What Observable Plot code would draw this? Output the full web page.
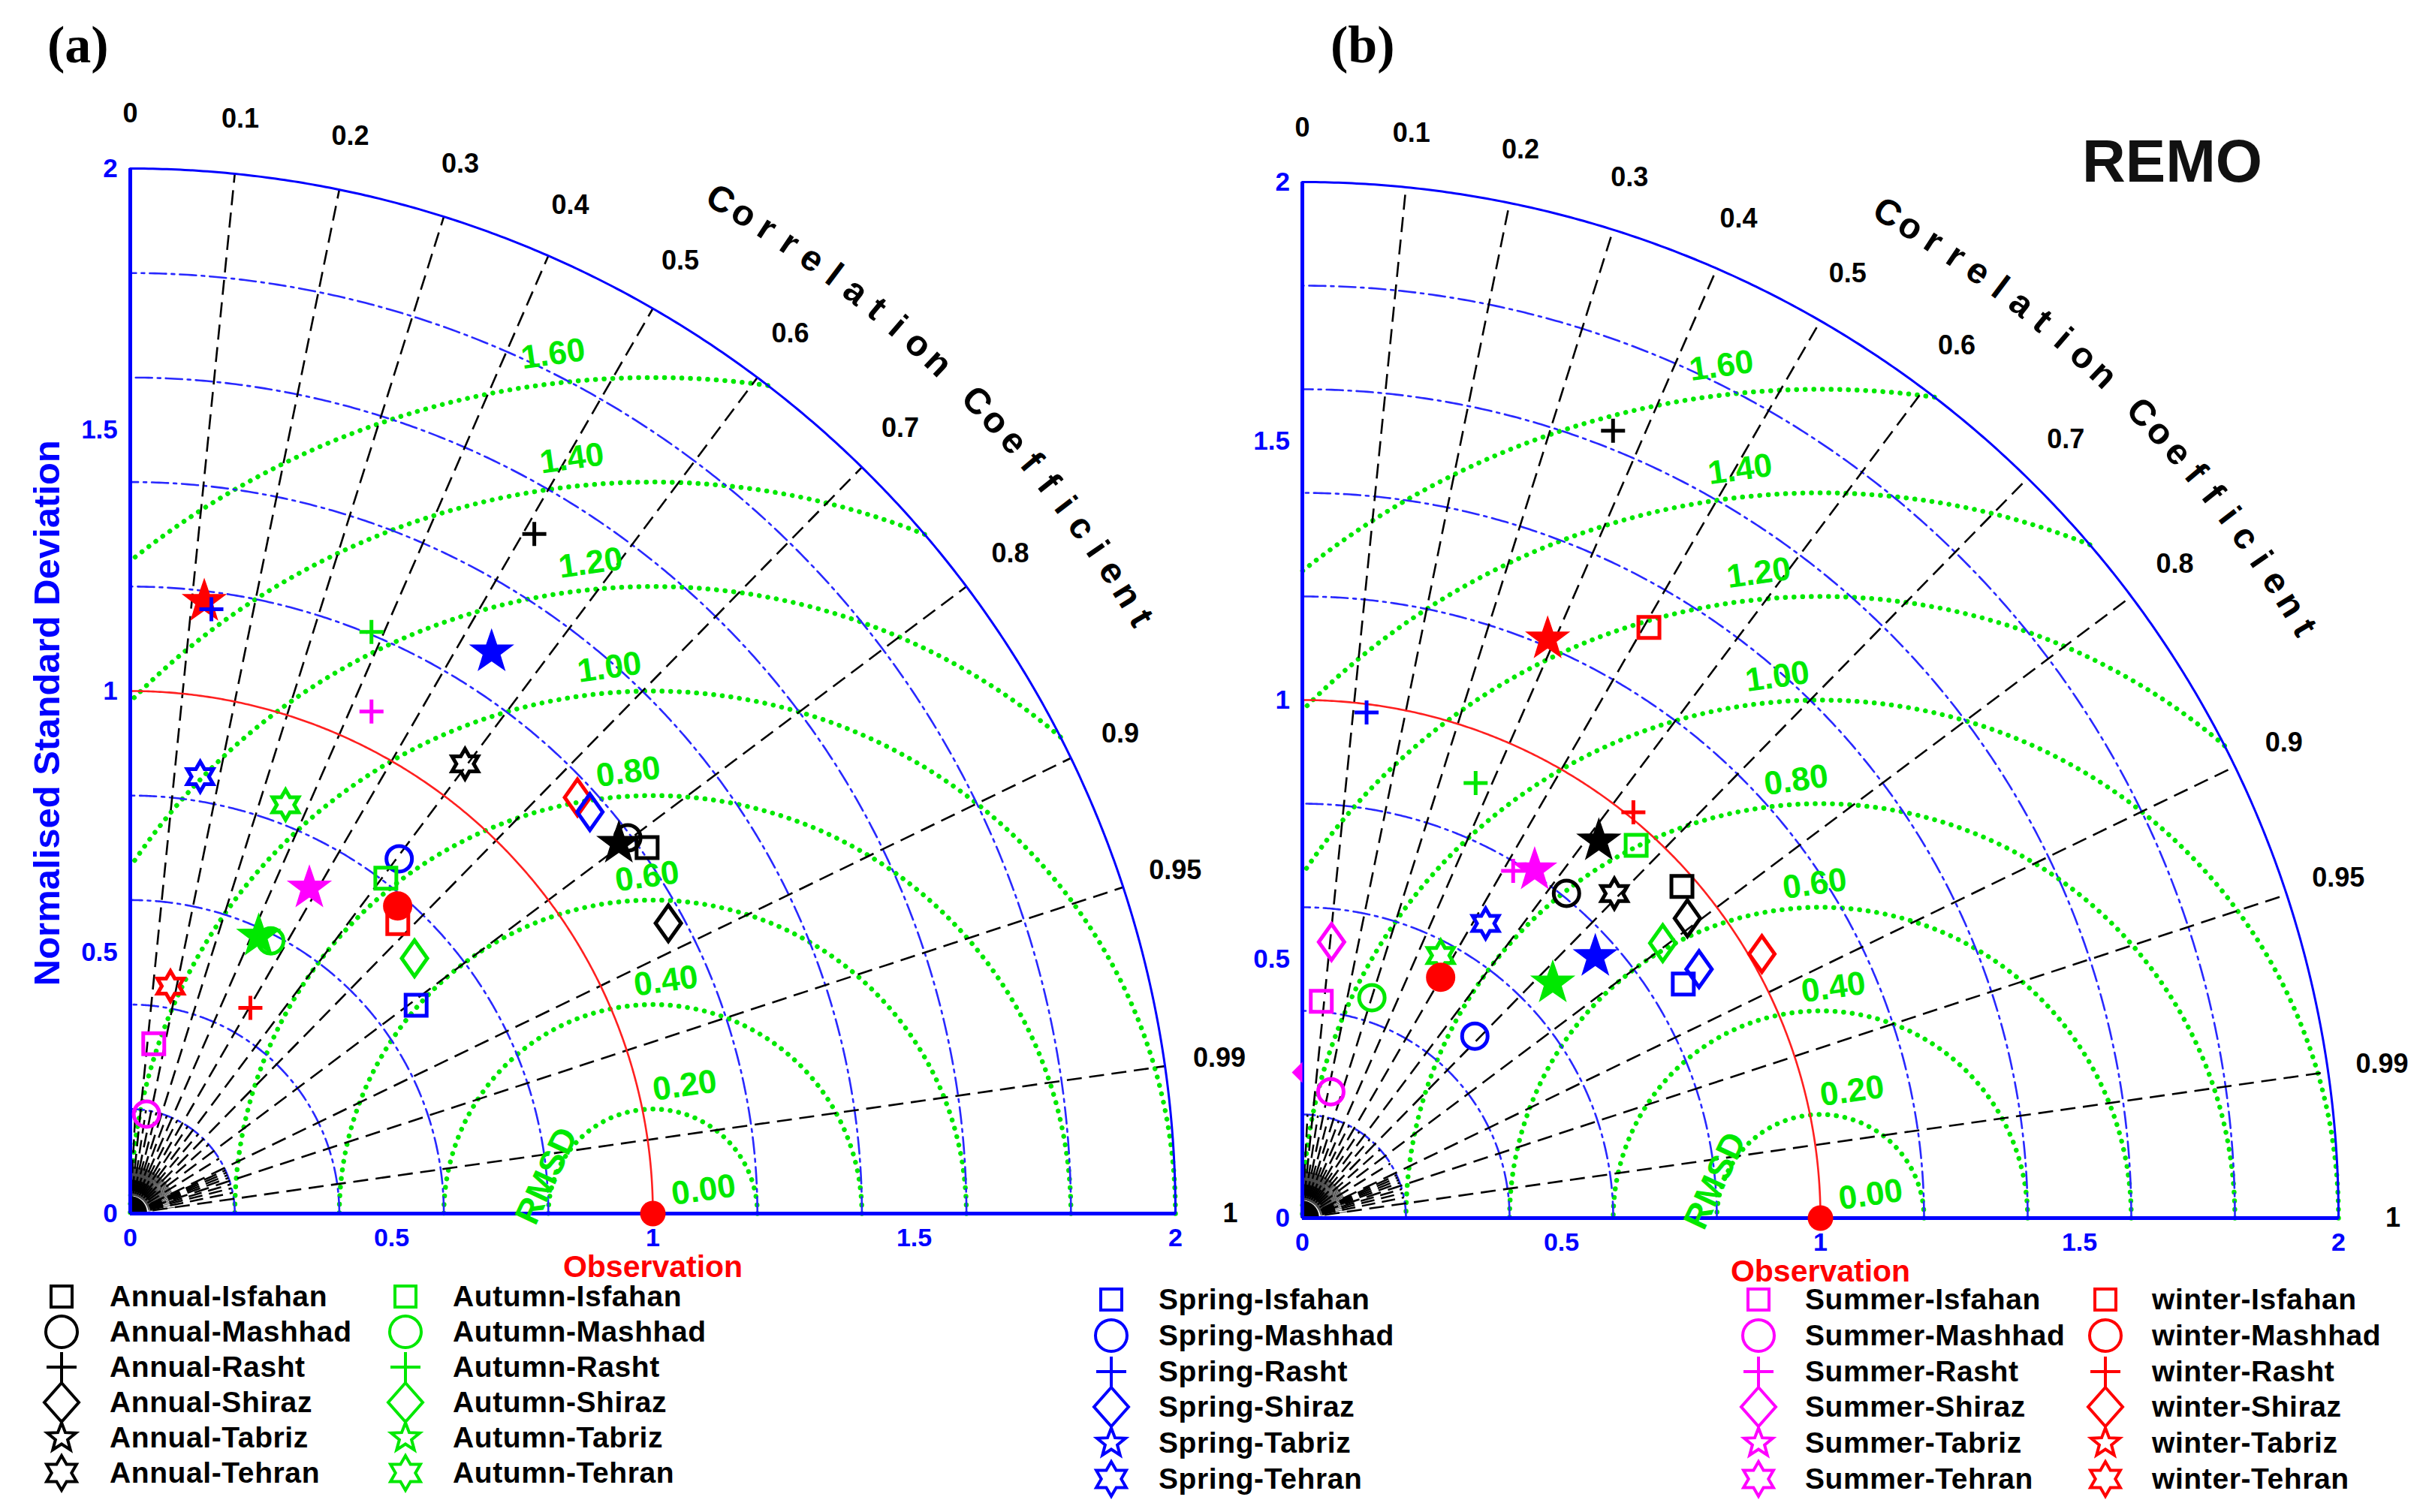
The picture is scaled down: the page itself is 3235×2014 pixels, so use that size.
<!DOCTYPE html>
<html><head><meta charset="utf-8">
<script src="https://cdn.jsdelivr.net/npm/d3@7"></script>
<script src="https://cdn.jsdelivr.net/npm/@observablehq/plot@0.6"></script>
<style>
body{margin:0;background:#fff;}
#root{position:relative;width:3235px;height:2014px;overflow:hidden;background:#fff;font-family:"Liberation Sans",Arial,sans-serif;}
.abs{position:absolute;white-space:nowrap;}
</style></head><body><div id="root"></div>
<script>
// ---------------- data ----------------
const seasons = ["Annual","Autumn","Spring","Summer","winter"];
const seasonColors = ["#000000","#00e800","#0000ff","#ff00ff","#ff0000"];
const cities = ["Isfahan","Mashhad","Rasht","Shiraz","Tabriz","Tehran"];
const corrTicks = [0,0.1,0.2,0.3,0.4,0.5,0.6,0.7,0.8,0.9,0.95,0.99,1];
const corrLinesMain = [0.1,0.2,0.3,0.4,0.5,0.6,0.7,0.8,0.9,0.95,0.99];
const corrLinesMinor = [0.05,0.15,0.25,0.35,0.45,0.55,0.65,0.75,0.85,0.91,0.92,0.93,0.94,0.96,0.97,0.98];
const stdTicks = [0,0.5,1,1.5,2];
const stdGrid = [0.2,0.4,0.6,0.8,1.2,1.4,1.6,1.8];
const rmsdLevels = [0,0.2,0.4,0.6,0.8,1.0,1.2,1.4,1.6];
const rmsdLabels = ["0.00","0.20","0.40","0.60","0.80","1.00","1.20","1.40","1.60"];

// panel (a)
const aSeason = ["winter","Spring","Annual","Autumn","Spring","Summer","Spring","Autumn","Annual","winter","Spring","Annual","Annual","Annual","Annual","Spring","Autumn","Summer","winter","winter","Autumn","Autumn","Autumn","Spring","winter","winter","Summer","Summer"];
const aCity   = ["Tabriz","Rasht","Rasht","Rasht","Tabriz","Rasht","Tehran","Tehran","Tehran","Shiraz","Shiraz","Tabriz","Mashhad","Isfahan","Shiraz","Mashhad","Isfahan","Tabriz","Isfahan","Mashhad","Tabriz","Mashhad","Shiraz","Isfahan","Tehran","Rasht","Isfahan","Mashhad"];
const aStd    = [1.180,1.167,1.513,1.205,1.278,1.066,0.847,0.837,1.073,1.169,1.168,1.173,1.193,1.212,1.170,0.852,0.807,0.711,0.755,0.780,0.585,0.587,0.731,0.677,0.442,0.456,0.328,0.193];
const aCorr   = [0.120,0.133,0.511,0.383,0.541,0.433,0.158,0.355,0.597,0.732,0.753,0.797,0.798,0.816,0.880,0.604,0.606,0.482,0.678,0.656,0.420,0.458,0.744,0.808,0.174,0.504,0.137,0.161];

// panel (b)
const bSeason = ["Annual","winter","winter","Spring","Autumn","winter","Annual","Autumn","Summer","Summer","Annual","Annual","Annual","Annual","Spring","Summer","Autumn","winter","Autumn","winter","Spring","Spring","Spring","Autumn","Summer","Autumn","Spring","Summer"];
const bCity   = ["Rasht","Tabriz","Isfahan","Rasht","Rasht","Rasht","Tabriz","Isfahan","Rasht","Tabriz","Mashhad","Tehran","Isfahan","Shiraz","Tehran","Shiraz","Shiraz","Shiraz","Tehran","Mashhad","Tabriz","Shiraz","Isfahan","Tabriz","Isfahan","Mashhad","Mashhad","Mashhad"];
const bStd    = [1.634,1.214,1.322,0.984,0.904,1.011,0.926,0.966,0.784,0.808,0.808,0.869,0.973,0.942,0.670,0.536,0.875,1.023,0.573,0.536,0.758,0.904,0.863,0.663,0.420,0.446,0.484,0.250];
const bCorr   = [0.367,0.390,0.506,0.126,0.370,0.632,0.618,0.667,0.519,0.555,0.631,0.693,0.753,0.789,0.528,0.105,0.795,0.867,0.466,0.498,0.746,0.847,0.852,0.729,0.087,0.301,0.688,0.220];
const bEdgeSeason = ["Summer"];
const bEdgeStd = [0.281];
const bEdgeCorr = [0.0];

// ---------------- helpers ----------------
const rad = Math.PI/180;
const GREEN = "#00e800", BLUE = "#0000ff", RED = "#ff0000";
const colorOf = Object.fromEntries(seasons.map((s,i)=>[s,seasonColors[i]]));
const FONT = "Liberation Sans, Arial, Helvetica, sans-serif";
function polar(std, corr){ const a = Math.acos(Math.max(-1,Math.min(1,corr))); return {x: std*Math.cos(a), y: std*Math.sin(a)}; }

function shapes(sp){
  const K = size => Math.sqrt(size/Math.PI)/10;
  return {
    Isfahan:{draw(c,size){const h=sp.sq*K(size); c.moveTo(-h,-h);c.lineTo(h,-h);c.lineTo(h,h);c.lineTo(-h,h);c.closePath();}},
    Mashhad:{draw(c,size){const r=sp.ci*K(size); c.moveTo(r,0); c.arc(0,0,r,0,2*Math.PI); c.closePath();}},
    Rasht:{draw(c,size){const k=K(size); c.moveTo(-sp.plw*k,0);c.lineTo(sp.plw*k,0);c.moveTo(0,-sp.plt*k);c.lineTo(0,sp.plb*k);}},
    Shiraz:{draw(c,size){const k=K(size),w=sp.diw*k,h=sp.dih*k; c.moveTo(0,-h);c.lineTo(w,0);c.lineTo(0,h);c.lineTo(-w,0);c.closePath();}},
    Tabriz:{draw(c,size){const k=K(size); for(let i=0;i<10;i++){const r=(i%2?sp.str:sp.stR)*k, a=-Math.PI/2+i*Math.PI/5; const x=r*Math.cos(a), y=r*Math.sin(a); i?c.lineTo(x,y):c.moveTo(x,y);} c.closePath();}},
    Tehran:{draw(c,size){const k=K(size), R=sp.hxR*k, r=R/Math.sqrt(3); for(let i=0;i<12;i++){const rr=i%2?r:R, a=-Math.PI/2+i*Math.PI/6; const x=rr*Math.cos(a), y=rr*Math.sin(a); i?c.lineTo(x,y):c.moveTo(x,y);} c.closePath();}}
  };
}
const plotSym = shapes({sq:14, ci:17, plw:16, plt:16, plb:16, diw:17, dih:24, stR:24, str:9.5, hxR:20});
const legSym  = shapes({sq:14, ci:21, plw:20, plt:20, plb:22, diw:23, dih:26, stR:20, str:8.5, hxR:23});
const halfDiamond = {draw(c,size){const k=Math.sqrt(size/Math.PI)/10; c.moveTo(0,-14*k); c.lineTo(-14*k,0); c.lineTo(0,14*k); c.closePath();}};

// geometry (shared)
const rmsdArcs = [];
rmsdLevels.filter(r=>r>0).forEach(r=>{
  const cmin = (3 - r*r)/(2*r);
  const t0 = cmin >= 1 ? 0 : Math.acos(cmin);
  const t1 = r > 1 ? Math.acos(-1/r) : Math.PI;
  const n = 400;
  for(let i=0;i<=n;i++){const t=t0+(t1-t0)*i/n; rmsdArcs.push({k:r, x:1+r*Math.cos(t), y:r*Math.sin(t)});}
});
function quarterArc(r, key){ const out=[]; for(let i=0;i<=360;i++){const t=90*i/360*rad; out.push({k:key, x:r*Math.cos(t), y:r*Math.sin(t)});} return out; }
const stdArcs = stdGrid.flatMap(s=>quarterArc(s,s));
const redArc = quarterArc(1,"obs");
const outerArc = quarterArc(2,"outer");
const ray = (c, r0, r1) => { const a=Math.acos(c); return {x1:r0*Math.cos(a), y1:r0*Math.sin(a), x2:r1*Math.cos(a), y2:r1*Math.sin(a)}; };
const mainRays = corrLinesMain.map(c=>ray(c,0,2));
const minorRays = corrLinesMinor.map(c=>ray(c,0,0.2));
const fineRays = d3.range(1,100).map(i=>ray(i/100,0.035,0.09));
const disk = d3.range(0,101).map(i=>{const x=0.033*i/100; return {x, y0:0, y:Math.sqrt(Math.max(0,0.033*0.033-x*x))};});
const corrLabelData = corrTicks.map(c=>{const p=polar(2.105,c); return {...p, t:String(c)};});
const ccTitle = "Correlation Coefficient";
const ccChars = [...ccTitle].map((ch,i)=>({ch, a:59.8-1.332*i})).filter(d=>d.ch!==" ")
  .map(d=>({ch:d.ch, x:2.245*Math.cos(d.a*rad), y:2.245*Math.sin(d.a*rad), rot:90-d.a}));
const rmsdLabelData = rmsdLevels.map((r,i)=>({t:rmsdLabels[i], x:1.097-0.18*r, y:r+0.045}));
const stdLabelLeft = stdTicks.map(v=>({t:String(v), x:-0.024, y:v}));
const stdLabelBottom = stdTicks.map(v=>({t:String(v), x:v, y:-0.047}));

const H = 1705;
function makePanel(p){
  const xd=[-p.ox/p.unit, (p.width-p.ox)/p.unit];
  const yd=[-(H-p.oy)/p.unit, p.oy/p.unit];
  const pts = p.season.map((s,i)=>{const q=polar(p.std[i],p.corr[i]); const city=p.city[i];
    return {season:s, city, color:colorOf[s], fill:(city==="Tabriz"||(s==="winter"&&city==="Mashhad"))?colorOf[s]:"none", ...q};});
  const edge = (p.edgeSeason||[]).map((s,i)=>({color:colorOf[s], ...polar(p.edgeStd[i], p.edgeCorr[i])}));
  const marks = [
    Plot.line(rmsdArcs, {x:"x", y:"y", z:"k", stroke:GREEN, strokeWidth:6.5, strokeDasharray:"0.1,11.4", strokeLinecap:"round"}),
    Plot.line(stdArcs, {x:"x", y:"y", z:"k", stroke:"#2828ff", strokeWidth:2.6, strokeDasharray:"22,7,4,7"}),
    Plot.link(fineRays, {x1:"x1", y1:"y1", x2:"x2", y2:"y2", stroke:"#444", strokeWidth:1}),
    Plot.link(minorRays, {x1:"x1", y1:"y1", x2:"x2", y2:"y2", stroke:"black", strokeWidth:2.5, strokeDasharray:"18,9"}),
    Plot.link(mainRays, {x1:"x1", y1:"y1", x2:"x2", y2:"y2", stroke:"black", strokeWidth:2.6, strokeDasharray:"20,10"}),
    Plot.line(redArc, {x:"x", y:"y", stroke:"#ff2020", strokeWidth:2.6}),
    Plot.line(outerArc, {x:"x", y:"y", stroke:BLUE, strokeWidth:3}),
    Plot.areaY(disk, {x:"x", y1:"y0", y2:"y", fill:"black"}),
    Plot.ruleX([0], {y1:0, y2:2, stroke:BLUE, strokeWidth:5}),
    Plot.ruleY([0], {x1:0, x2:2, stroke:BLUE, strokeWidth:5}),
    Plot.dot(edge, {x:"x", y:"y", symbol:halfDiamond, r:10, fill:"color", stroke:"none"}),
    Plot.dot(pts, {x:"x", y:"y", symbol:"city", r:10, stroke:"color", fill:"fill", strokeWidth:5, strokeLinejoin:"miter"}),
    Plot.dot([{x:1,y:0}], {x:"x", y:"y", r:17, fill:RED, stroke:"none"}),
    Plot.text(corrLabelData, {x:"x", y:"y", text:"t", fontSize:36, fontWeight:"bold", fill:"black", fontFamily:FONT}),
    Plot.text(ccChars, {x:"x", y:"y", text:"ch", rotate:"rot", fontSize:48, fontWeight:"bold", fill:"black", fontFamily:FONT}),
    Plot.text(stdLabelLeft, {x:"x", y:"y", text:"t", textAnchor:"end", fontSize:35, fontWeight:"bold", fill:BLUE, fontFamily:FONT}),
    Plot.text(stdLabelBottom, {x:"x", y:"y", text:"t", fontSize:34, fontWeight:"bold", fill:BLUE, fontFamily:FONT}),
    Plot.text(rmsdLabelData, {x:"x", y:"y", text:"t", rotate:-8, fontSize:44, fontWeight:"bold", fill:GREEN, fontFamily:FONT}),
    Plot.text([{t:"RMSD", x:0.797, y:0.072}], {x:"x", y:"y", text:"t", rotate:-65, fontSize:46, fontWeight:"bold", fill:GREEN, fontFamily:FONT}),
    Plot.text([{t:"Observation", x:1, y:-0.103}], {x:"x", y:"y", text:"t", fontSize:41, fontWeight:"bold", fill:RED, fontFamily:FONT})
  ];
  if (p.ylabel) marks.push(Plot.text([{t:"Normalised Standard Deviation", x:-0.159, y:0.958}], {x:"x", y:"y", text:"t", rotate:-90, fontSize:49, fontWeight:"bold", fill:BLUE, fontFamily:FONT}));
  const svg = Plot.plot({
    width:p.width, height:H, margin:0,
    x:{domain:xd, axis:null}, y:{domain:yd, axis:null},
    color:{type:"identity"},
    symbol:{domain:cities, range:cities.map(c=>plotSym[c])},
    style:{overflow:"visible", background:"transparent", maxWidth:"none"},
    marks
  });
  svg.style.position="absolute"; svg.style.left=p.left+"px"; svg.style.top="0px";
  return svg;
}

const root = document.getElementById("root");
root.appendChild(makePanel({left:0, width:1617, ox:173, oy:1616, unit:696, season:aSeason, city:aCity, std:aStd, corr:aCorr, ylabel:true}));
root.appendChild(makePanel({left:1617, width:1618, ox:117, oy:1622, unit:690, season:bSeason, city:bCity, std:bStd, corr:bCorr, edgeSeason:bEdgeSeason, edgeStd:bEdgeStd, edgeCorr:bEdgeCorr, ylabel:false}));

// titles
function addText(txt, left, top, css){ const d=document.createElement("div"); d.className="abs"; d.textContent=txt; d.style.left=left+"px"; d.style.top=top+"px"; Object.assign(d.style, css); root.appendChild(d); return d; }
addText("(a)", 63, 25, {font:"bold 70px 'Liberation Serif', 'Times New Roman', serif", lineHeight:"70px"});
addText("(b)", 1772, 25, {font:"bold 70px 'Liberation Serif', 'Times New Roman', serif", lineHeight:"70px"});
addText("REMO", 2773, 175, {font:"bold 80px 'Liberation Sans', Arial, sans-serif", lineHeight:"80px", color:"#111"});

// legend
const leftRows = d3.range(6).map(i=>1727+47*i);
const rightRows = d3.range(6).map(i=>1731+47.8*i);
const legendCols = [
  {season:"Annual", sx:82, tx:146, rows:leftRows},
  {season:"Autumn", sx:540, tx:603, rows:leftRows},
  {season:"Spring", sx:1480, tx:1543, rows:rightRows},
  {season:"Summer", sx:2342, tx:2404, rows:rightRows},
  {season:"winter", sx:2804, tx:2866, rows:rightRows}
];
const NS="http://www.w3.org/2000/svg";
legendCols.forEach(col=>{
  cities.forEach((city,i)=>{
    const y=col.rows[i];
    const s=document.createElementNS(NS,"svg");
    s.setAttribute("width",80); s.setAttribute("height",80);
    s.style.position="absolute"; s.style.left=(col.sx-40)+"px"; s.style.top=(y-40)+"px"; s.style.overflow="visible";
    const path=document.createElementNS(NS,"path");
    path.setAttribute("d", d3.symbol(legSym[city], Math.PI*100)());
    path.setAttribute("transform","translate(40,40)");
    path.setAttribute("fill","none"); path.setAttribute("stroke", colorOf[col.season]); path.setAttribute("stroke-width", 4);
    s.appendChild(path); root.appendChild(s);
    addText(col.season+"-"+city, col.tx, y-22, {font:"bold 39px 'Liberation Sans', Arial, sans-serif", lineHeight:"44px", letterSpacing:"0.6px", color:"#000"});
  });
});
</script></body></html>
